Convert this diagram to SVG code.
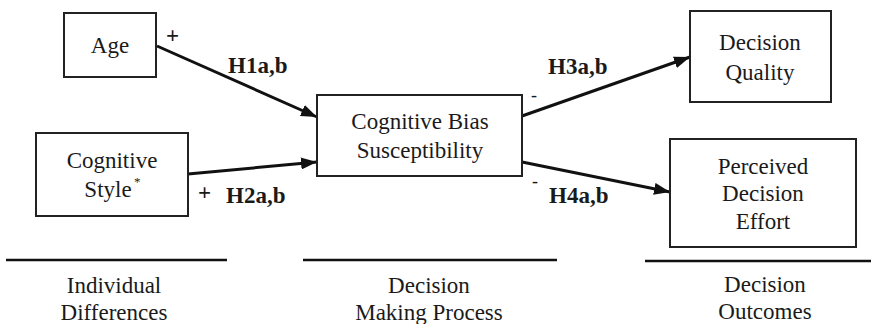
<svg xmlns="http://www.w3.org/2000/svg" width="871" height="324" viewBox="0 0 871 324">
  <defs>
    <marker id="arrow" viewBox="0 0 16 12" refX="16" refY="6" markerWidth="16" markerHeight="12" markerUnits="userSpaceOnUse" orient="auto">
      <path d="M0,0 L16,6 L0,12 Z" fill="#111"/>
    </marker>
    <style>
      .box { fill: #fff; stroke: #222; stroke-width: 2; }
      .lbl { font-size: 23px; font-weight: normal; fill: #1a1a1a; text-anchor: middle; }
      .hyp { font-size: 23px; font-weight: bold; fill: #1a1a1a; }
      .sign { font-size: 23px; font-weight: bold; fill: #1a1a1a; }
      .minus { font-size: 18px; fill: #1a1a1a; }
      .edge { stroke: #111; stroke-width: 3; fill: none; marker-end: url(#arrow); }
      .rule { stroke: #111; stroke-width: 2.5; }
    </style>
  </defs>

  <g font-family="'Liberation Serif', 'Times New Roman', 'DejaVu Serif', serif">
  <!-- connectors -->
  <g id="connectors">
    <line class="edge" x1="157" y1="46" x2="317" y2="117"/>
    <line class="edge" x1="188" y1="174" x2="317" y2="162"/>
    <line class="edge" x1="522" y1="116" x2="690" y2="57"/>
    <line class="edge" x1="522" y1="162" x2="670" y2="192"/>
    <text class="sign" x="166" y="43">+</text>
    <text class="hyp" x="228" y="73">H1a,b</text>
    <text class="sign" x="198" y="200">+</text>
    <text class="hyp" x="226" y="203">H2a,b</text>
    <text class="minus" x="531" y="101">-</text>
    <text class="hyp" x="548" y="74">H3a,b</text>
    <text class="minus" x="532" y="187">-</text>
    <text class="hyp" x="549" y="203">H4a,b</text>
  </g>

  <g id="age">
    <rect class="box" x="64" y="13" width="92" height="64"/>
    <text class="lbl" x="110" y="53">Age</text>
  </g>

  <g id="cognitive-style">
    <rect class="box" x="36" y="133" width="152" height="83"/>
    <text class="lbl" x="112" y="168">Cognitive</text>
    <text class="lbl" x="108" y="197">Style</text>
    <text x="134" y="186" font-size="13" fill="#1a1a1a">*</text>
  </g>

  <g id="cognitive-bias">
    <rect class="box" x="317" y="95" width="205" height="81"/>
    <text class="lbl" x="420" y="129">Cognitive Bias</text>
    <text class="lbl" x="420" y="158">Susceptibility</text>
  </g>

  <g id="decision-quality">
    <rect class="box" x="690" y="11" width="141" height="91"/>
    <text class="lbl" x="760" y="50">Decision</text>
    <text class="lbl" x="760" y="80">Quality</text>
  </g>

  <g id="decision-effort">
    <rect class="box" x="670" y="139" width="186" height="108"/>
    <text class="lbl" x="763" y="174">Perceived</text>
    <text class="lbl" x="763" y="201">Decision</text>
    <text class="lbl" x="763" y="229">Effort</text>
  </g>

  <!-- stage headings -->
  <g id="stage-individual">
    <line class="rule" x1="6" y1="260" x2="227" y2="260"/>
    <text class="lbl" x="114" y="293">Individual</text>
    <text class="lbl" x="114" y="320">Differences</text>
  </g>
  <g id="stage-process">
    <line class="rule" x1="303" y1="260" x2="557" y2="260"/>
    <text class="lbl" x="429" y="293">Decision</text>
    <text class="lbl" x="429" y="320">Making Process</text>
  </g>
  <g id="stage-outcomes">
    <line class="rule" x1="645" y1="261" x2="871" y2="261"/>
    <text class="lbl" x="765" y="292">Decision</text>
    <text class="lbl" x="765" y="319">Outcomes</text>
  </g>
  </g>
</svg>
